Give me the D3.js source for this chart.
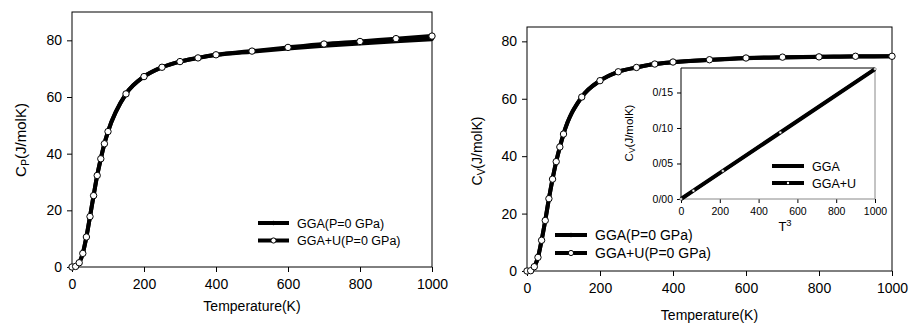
<!DOCTYPE html>
<html><head><meta charset="utf-8">
<script src="https://cdn.jsdelivr.net/npm/d3@7"></script>
<style>body{margin:0;background:#fff}svg{display:block;font-family:"Liberation Sans",Arial,sans-serif}</style>
</head><body>
<svg id="c" width="911" height="324"></svg>
<script>
const temps = [0,10,20,30,40,50,60,70,80,90,100,150,200,250,300,350,400,500,600,700,800,900,1000];
const cpGGA  = [0,0.2,1.5,4.8,10.6,17.8,25.2,32.3,38.2,43.5,47.8,61.1,67.2,70.5,72.5,73.8,74.8,76.0,77.1,78.1,78.9,79.7,80.4];
const cpGGAU = [0,0.2,1.5,4.8,10.6,17.8,25.2,32.3,38.2,43.5,47.8,61.1,67.2,70.5,72.5,73.8,74.9,76.2,77.5,78.7,79.6,80.6,81.5];
const cvGGA  = [0,0.1,1.5,4.75,10.7,17.6,25.2,32.0,38.1,43.2,47.7,60.6,66.3,69.4,70.9,72.1,72.7,73.5,74.1,74.4,74.6,74.7,74.8];
const cvGGAU = [0,0.1,1.5,4.75,10.7,17.6,25.2,32.0,38.1,43.2,47.7,60.6,66.3,69.4,70.9,72.1,72.8,73.6,74.2,74.5,74.6,74.8,74.8];
const t3 = [0,64,216,512,1000];
const insetGGA  = [0,0.0117,0.0395,0.0937,0.183];
const insetGGAU = [0,0.0117,0.0395,0.0937,0.183];
const xTicks = [0,200,400,600,800,1000];
const yTicks = [0,20,40,60,80];
const insetYTicks = [0,0.05,0.10,0.15];
const insetYLabels = ["0/00","0/05","0/10","0/15"];
const legendMain = ["GGA(P=0 GPa)","GGA+U(P=0 GPa)"];
const legendInset = ["GGA","GGA+U"];

const svg = d3.select("#c");

function panel(o){
  const x = d3.scaleLinear().domain([0,1000]).range([o.l,o.r]);
  const y = d3.scaleLinear().domain([0,o.ymax]).range([o.b,o.t]);
  const g = svg.append("g");
  const ax = g.append("g").attr("transform",`translate(0,${o.b})`)
    .call(d3.axisBottom(x).tickValues(xTicks).tickSize(5).tickPadding(7).tickFormat(d3.format("d")));
  const ay = g.append("g").attr("transform",`translate(${o.l},0)`)
    .call(d3.axisLeft(y).tickValues(yTicks).tickSize(5).tickPadding(5));
  [ax,ay].forEach(a=>{a.select(".domain").remove();
    a.selectAll("text").attr("font-size",14).attr("fill","#000").attr("font-family","Liberation Sans, Arial, sans-serif");
    a.selectAll("line").attr("stroke","#000");});
  g.append("rect").attr("x",o.l).attr("y",o.t).attr("width",o.r-o.l).attr("height",o.b-o.t)
    .attr("fill","none").attr("stroke","#000").attr("stroke-width",1);
  const line = d3.line().x((d,i)=>x(temps[i])).y(d=>y(d)).curve(d3.curveMonotoneX);
  g.append("path").attr("d",line(o.s1)).attr("fill","none").attr("stroke","#000").attr("stroke-width",4);
  g.append("path").attr("d",line(o.s2)).attr("fill","none").attr("stroke","#000").attr("stroke-width",4);
  g.selectAll(".m1").data(o.s1).join("circle").attr("cx",(d,i)=>x(temps[i])).attr("cy",d=>y(d)).attr("r",1.8).attr("fill","#000");
  g.selectAll(".m2").data(o.s2).join("circle").attr("cx",(d,i)=>x(temps[i])).attr("cy",d=>y(d)).attr("r",3.2)
    .attr("fill","#fff").attr("stroke","#000").attr("stroke-width",1);
  g.append("text").attr("x",(o.l+o.r)/2).attr("y",o.xt).attr("text-anchor","middle").attr("font-size",14).text("Temperature(K)");
  const yt = g.append("text").attr("transform",`translate(${o.yx},${o.yy}) rotate(-90)`).attr("text-anchor","middle").attr("font-size",o.yfs);
  yt.append("tspan").text("C");
  yt.append("tspan").attr("font-size",o.yfs*0.72).attr("dy",3).text(o.sub);
  yt.append("tspan").attr("dy",-3).text("(J/molK)");
  const lg = g.append("g");
  legendMain.forEach((name,i)=>{
    const yy = o.ly + i*o.lsp;
    lg.append("line").attr("x1",o.lx).attr("x2",o.lx+o.lw).attr("y1",yy).attr("y2",yy).attr("stroke","#000").attr("stroke-width",4);
    if(i===0) lg.append("circle").attr("cx",o.lx+o.lw/2).attr("cy",yy).attr("r",2.2).attr("fill","#000");
    else lg.append("circle").attr("cx",o.lx+o.lw/2).attr("cy",yy).attr("r",2.6).attr("fill","#fff").attr("stroke","#000");
    lg.append("text").attr("x",o.lx+o.lw+8).attr("y",yy).attr("dy","0.36em").attr("font-size",o.lfs).text(name);
  });
  return g;
}

panel({l:72,r:432,t:12,b:267,ymax:90,s1:cpGGA,s2:cpGGAU,xt:311,yx:26,yy:140,yfs:15,sub:"P",
  lx:258,lw:31,ly:223,lsp:17.5,lfs:12.5});
panel({l:527,r:892,t:27,b:271,ymax:85,s1:cvGGA,s2:cvGGAU,xt:320,yx:482,yy:151,yfs:14,sub:"V",
  lx:555,lw:32,ly:235,lsp:18,lfs:14});

(function(){
  const l=681,r=875,t=68,b=199;
  const x = d3.scaleLinear().domain([0,1000]).range([l,r]);
  const y = d3.scaleLinear().domain([0,0.1845]).range([b,t]);
  const g = svg.append("g");
  g.append("rect").attr("x",l).attr("y",t).attr("width",r-l).attr("height",b-t).attr("fill","#fff");
  const ax = g.append("g").attr("transform",`translate(0,${b})`)
    .call(d3.axisBottom(x).tickValues(xTicks).tickSize(4).tickPadding(5).tickFormat(d3.format("d")));
  const ay = g.append("g").attr("transform",`translate(${l},0)`)
    .call(d3.axisLeft(y).tickValues(insetYTicks).tickSize(4).tickPadding(4).tickFormat((d,i)=>insetYLabels[i]));
  [ax,ay].forEach(a=>{a.select(".domain").remove();
    a.selectAll("text").attr("font-size",10.5).attr("fill","#000").attr("font-family","Liberation Sans, Arial, sans-serif");
    a.selectAll("line").attr("stroke","#000");});
  g.append("line").attr("x1",l).attr("x2",r).attr("y1",t).attr("y2",t).attr("stroke","#000");
  g.append("line").attr("x1",l).attr("x2",l).attr("y1",t).attr("y2",b).attr("stroke","#000");
  g.append("line").attr("x1",r).attr("x2",r).attr("y1",t).attr("y2",b).attr("stroke","#888");
  g.append("line").attr("x1",l).attr("x2",r).attr("y1",b).attr("y2",b).attr("stroke","#888");
  const line = d3.line().x((d,i)=>x(t3[i])).y(d=>y(d));
  g.append("path").attr("d",line(insetGGA)).attr("fill","none").attr("stroke","#000").attr("stroke-width",4);
  g.append("path").attr("d",line(insetGGAU)).attr("fill","none").attr("stroke","#000").attr("stroke-width",3);
  g.selectAll(".im").data(insetGGAU).join("circle").attr("cx",(d,i)=>x(t3[i])).attr("cy",d=>y(d)).attr("r",1.3)
    .attr("fill","#fff").attr("stroke","#444").attr("stroke-width",0.5);
  const tt = g.append("text").attr("x",785).attr("y",231).attr("text-anchor","middle").attr("font-size",13);
  tt.append("tspan").text("T");
  tt.append("tspan").attr("font-size",9.5).attr("dy",-5).text("3");
  const yt = g.append("text").attr("transform",`translate(633,133) rotate(-90)`).attr("text-anchor","middle").attr("font-size",11.5);
  yt.append("tspan").text("C");
  yt.append("tspan").attr("font-size",8.5).attr("dy",2).text("V");
  yt.append("tspan").attr("dy",-2).text("(J/molK)");
  legendInset.forEach((name,i)=>{
    const yy = 166 + i*17;
    g.append("line").attr("x1",772).attr("x2",804).attr("y1",yy).attr("y2",yy).attr("stroke","#000").attr("stroke-width",4);
    if(i===1) g.append("circle").attr("cx",788).attr("cy",yy).attr("r",1.2).attr("fill","#fff");
    g.append("text").attr("x",812).attr("y",yy).attr("dy","0.36em").attr("font-size",12.5).text(name);
  });
})();
</script>
</body></html>
